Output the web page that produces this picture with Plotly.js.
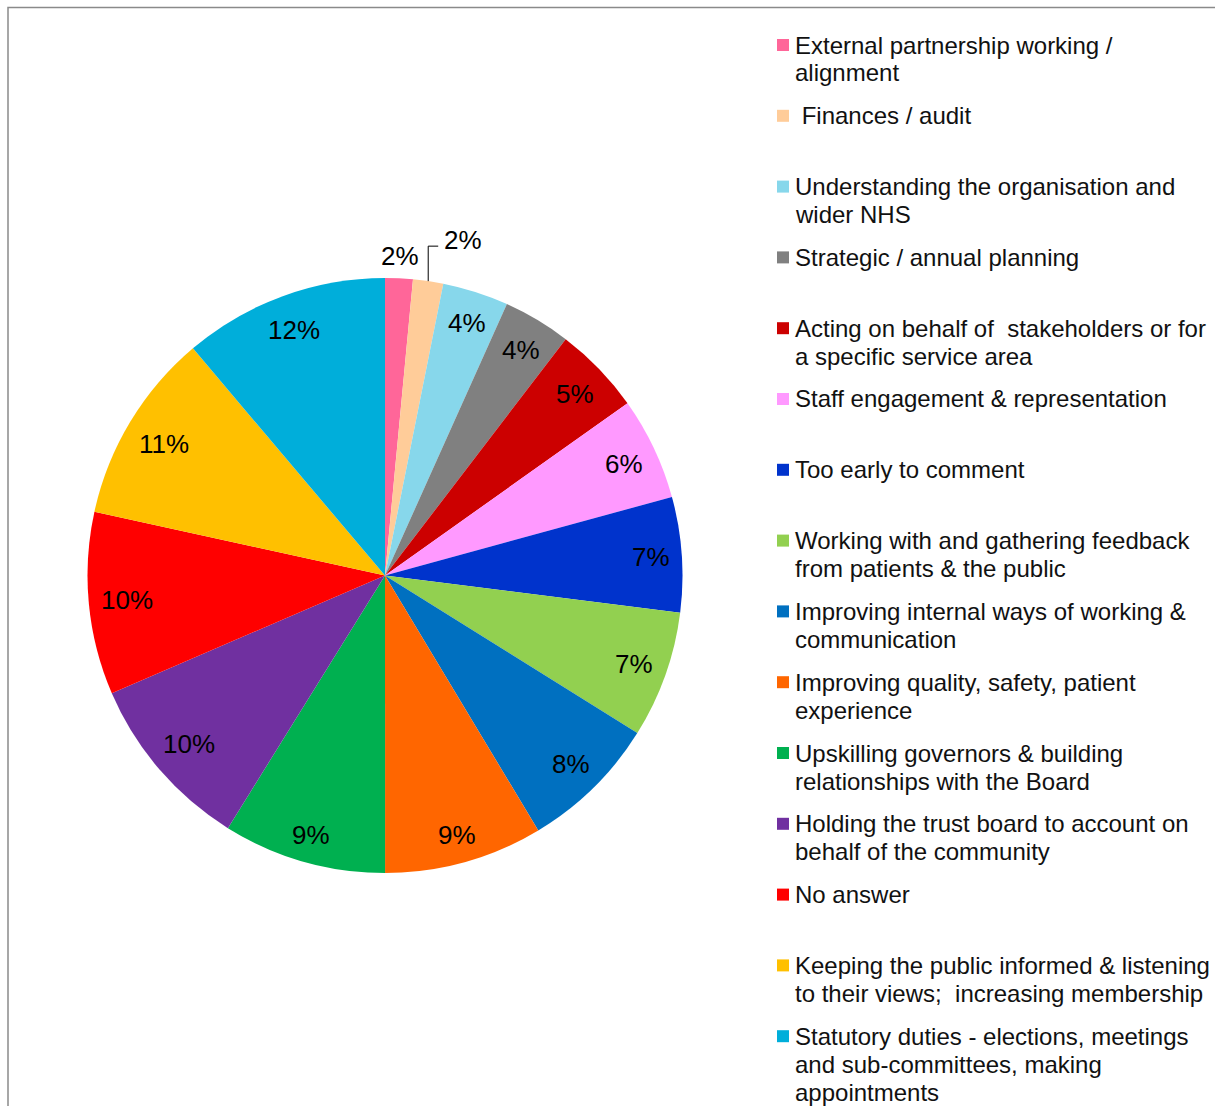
<!DOCTYPE html>
<html>
<head>
<meta charset="utf-8">
<script src="https://cdn.plot.ly/plotly-3.0.1.min.js"></script>
<style>html,body{margin:0;padding:0;background:#fff;overflow:hidden}</style>
</head>
<body>
<div id="chart" style="width:1215px;height:1106px"></div>
<script>
// ---- data ----
const categories = [
  "External partnership working /<br>alignment",
  " Finances / audit",
  "Understanding the organisation and<br>wider NHS",
  "Strategic / annual planning",
  "Acting on behalf of  stakeholders or for<br>a specific service area",
  "Staff engagement & representation",
  "Too early to comment",
  "Working with and gathering feedback<br>from patients & the public",
  "Improving internal ways of working &<br>communication",
  "Improving quality, safety, patient<br>experience",
  "Upskilling governors & building<br>relationships with the Board",
  "Holding the trust board to account on<br>behalf of the community",
  "No answer",
  "Keeping the public informed & listening<br>to their views;  increasing membership",
  "Statutory duties - elections, meetings<br>and sub-committees, making<br>appointments"
];
const values = [1.5, 1.64, 3.58, 3.67, 4.78, 5.58, 6.25, 6.89, 7.5, 8.61, 8.86, 9.67, 9.92, 10.39, 11.17];
const percentLabels = ["2%", "2%", "4%", "4%", "5%", "6%", "7%", "7%", "8%", "9%", "9%", "10%", "10%", "11%", "12%"];
const colors = ["#FF6699", "#FFCC99", "#87D7EB", "#808080", "#CC0000", "#FF99FF", "#0033CC",
                "#92D050", "#0070C0", "#FF6600", "#00B050", "#7030A0", "#FF0000", "#FFC000", "#00AEDA"];

// ---- layout geometry (pixels) ----
const W = 1215, H = 1106;
const CX = 385, CY = 575.5, R = 297.5;
const FONT = "Liberation Sans, Arial, sans-serif";
const LABEL_SIZE = 26;
const px = x => x / W;
const py = y => 1 - y / H;

const annotations = [];
const shapes = [];

// frame
shapes.push({type: "rect", xref: "paper", yref: "paper",
  x0: px(8), x1: px(1260), y0: py(7.5), y1: py(1150),
  line: {color: "#8a8a8a", width: 1.5}, fillcolor: "rgba(0,0,0,0)", layer: "above"});

// approximate label box width
function labelWidth(t) {
  let w = 0;
  for (const ch of t) w += (ch === "%" ? 0.889 : 0.556) * LABEL_SIZE;
  return w;
}

// percentage labels: "inside end" placement at the mid angle of each slice
const total = values.reduce((a, b) => a + b, 0);
let cum = 0;
values.forEach((v, i) => {
  const mid = (cum + v / 2) / total * 2 * Math.PI;
  cum += v;
  const s = Math.sin(mid), c = Math.cos(mid);
  const font = {family: FONT, size: LABEL_SIZE, color: "#000"};
  if (i === 0) {
    const r = R * 1.075;
    annotations.push({xref: "paper", yref: "paper", x: px(CX + r * s), y: py(CY - r * c),
      text: percentLabels[i], showarrow: false, xanchor: "center", yanchor: "middle", font});
  } else if (i === 1) {
    const ex = CX + R * s, ey = CY - R * c;
    const elbowY = ey - 35;
    shapes.push({type: "path", xref: "paper", yref: "paper",
      path: `M ${px(ex)} ${py(ey)} L ${px(ex)} ${py(elbowY)} L ${px(ex + 10)} ${py(elbowY)}`,
      line: {color: "#000", width: 1}});
    annotations.push({xref: "paper", yref: "paper", x: px(ex + 14), y: py(elbowY - 6),
      text: percentLabels[i], showarrow: false, xanchor: "left", yanchor: "middle", font});
  } else {
    const w = labelWidth(percentLabels[i]), h = 24, lim = R - 11;
    const b = w * Math.abs(s) + h * Math.abs(c);
    const C = (w * w + h * h) / 4 - lim * lim;
    const r = (-b + Math.sqrt(b * b - 4 * C)) / 2;
    const dy = 4 * Math.max(c, 0);
    annotations.push({xref: "paper", yref: "paper", x: px(CX + r * s), y: py(CY - r * c + dy),
      text: percentLabels[i], showarrow: false, xanchor: "center", yanchor: "middle", font});
  }
});

// legend on the right
const LEG_Y0 = 45, LEG_STEP = 70.8, LINE_H = 28;
categories.forEach((name, i) => {
  const y0 = LEG_Y0 + i * LEG_STEP;
  shapes.push({type: "rect", xref: "paper", yref: "paper",
    x0: px(777), x1: px(789), y0: py(y0 - 6), y1: py(y0 + 6),
    fillcolor: colors[i], line: {width: 0}});
  name.split("<br>").forEach((line, j) => {
    annotations.push({xref: "paper", yref: "paper", x: px(793), y: py(y0 + j * LINE_H),
      text: line.replace(/^ /, "\u00a0").replace(/  /g, " \u00a0"),
      showarrow: false, xanchor: "left", yanchor: "middle",
      font: {family: FONT, size: 24, color: "#111"}});
  });
});

const trace = {
  type: "pie",
  labels: categories,
  values: values,
  sort: false,
  direction: "clockwise",
  rotation: 0,
  marker: {colors: colors, line: {width: 0}},
  textinfo: "none",
  hoverinfo: "label+percent",
  showlegend: false,
  domain: {x: [px(CX - R), px(CX + R)], y: [1 - (CY + R) / H, 1 - (CY - R) / H]}
};

const layout = {
  width: W, height: H,
  margin: {l: 0, r: 0, t: 0, b: 0},
  paper_bgcolor: "#fff",
  showlegend: false,
  annotations: annotations,
  shapes: shapes
};

Plotly.newPlot("chart", [trace], layout, {displayModeBar: false, staticPlot: true});
</script>
</body>
</html>
